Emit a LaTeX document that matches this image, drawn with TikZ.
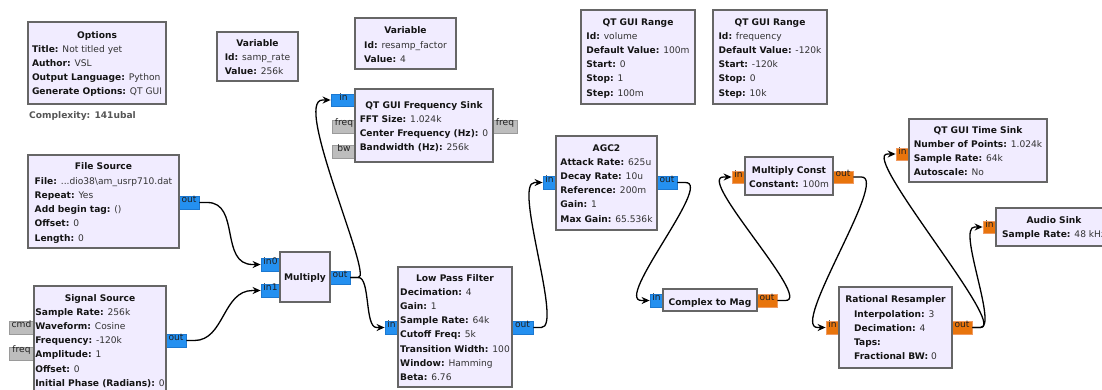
\documentclass[tikz,border=0pt]{standalone}
\usepackage{fontspec}
\setmainfont{DejaVu Sans}
\usetikzlibrary{fit,arrows.meta}
\definecolor{blockbg}{HTML}{F1ECFF}
\definecolor{blockline}{HTML}{666666}
\definecolor{keyc}{HTML}{141414}
\definecolor{valc}{HTML}{333333}
\definecolor{cplx}{HTML}{2490F0}
\definecolor{cplxline}{HTML}{1C78D0}
\definecolor{flt}{HTML}{E8740C}
\definecolor{fltline}{HTML}{F09A60}
\definecolor{msg}{HTML}{BDBDBD}
\definecolor{msgline}{HTML}{9A9A9A}
\definecolor{porttext}{HTML}{202020}
\definecolor{cplxtext}{HTML}{555555}
\newcommand{\kvline}[2]{\textbf{\color{keyc}#1} #2}
\tikzset{
  blockbox/.style={draw=blockline, fill=blockbg, line width=1.3pt, inner sep=0pt},
  ttl/.style={font=\bfseries, text=keyc, anchor=base, inner sep=0pt},
  bodytext/.style={text=valc, anchor=base, inner sep=0pt},
  port/.style={inner sep=0pt, line width=0.8pt, text=porttext},
  cport/.style={port, fill=cplx, draw=cplxline},
  fport/.style={port, fill=flt, draw=fltline},
  mport/.style={port, fill=msg, draw=msgline},
  wire/.style={draw=black, line width=1.3pt, -{Stealth[length=8pt,width=7pt]}},
}
\begin{document}
\fontsize{9.1}{14.2}\selectfont
\begin{tikzpicture}[x=1pt,y=-1pt]
\useasboundingbox (0,0) rectangle (1102,389);
\clip (0,0) rectangle (1102,389);

% ---------- ports ----------
\node[cport, fit={(331,94) (356,106)}] (fs-in) {in};
\node[mport, fit={(332,120) (356,133)}] (fs-freq) {freq};
\node[mport, fit={(332,145) (356,158)}] (fs-bw) {bw};
\node[mport, fit={(493,120) (517,133)}] (fs-fout) {freq};
\node[cport, fit={(179,196) (199,209)}] (file-out) {out};
\node[mport, fit={(9,321) (34,334)}] (sig-cmd) {cmd};
\node[mport, fit={(9,347) (34,360)}] (sig-freq) {freq};
\node[cport, fit={(166,334) (186,347)}] (sig-out) {out};
\node[cport, fit={(261,258) (280,271)}] (mul-in0) {in0};
\node[cport, fit={(261,284) (280,297)}] (mul-in1) {in1};
\node[cport, fit={(330,271) (350,284)}] (mul-out) {out};
\node[cport, fit={(385,321) (398,334)}] (lpf-in) {in};
\node[cport, fit={(512,321) (533,334)}] (lpf-out) {out};
\node[cport, fit={(543,176) (556,189)}] (agc-in) {in};
\node[cport, fit={(657,176) (677,189)}] (agc-out) {out};
\node[fport, fit={(732,171) (745,183)}] (mc-in) {in};
\node[fport, fit={(833,171) (853,183)}] (mc-out) {out};
\node[cport, fit={(650,294) (663,307)}] (cm-in) {in};
\node[fport, fit={(757,294) (777,307)}] (cm-out) {out};
\node[fport, fit={(826,321) (839,334)}] (rr-in) {in};
\node[fport, fit={(952,321) (972,334)}] (rr-out) {out};
\node[fport, fit={(896,148) (909,160)}] (ts-in) {in};
\node[fport, fit={(983,221) (996,233)}] (au-in) {in};

% ---------- blocks ----------
\node[blockbox, fit={(28,22) (166,104)}] (opt) {};
\node[ttl] (opt-t) at (97,38.3) {Options};
\node[bodytext] (opt-b) at (97,52.3) {\begin{tabular}[t]{@{}l@{}}
\kvline{Title:}{Not titled yet}\\
\kvline{Author:}{VSL}\\
\kvline{Output Language:}{Python}\\
\kvline{Generate Options:}{QT GUI}\end{tabular}};
\node[font=\bfseries, text=cplxtext, anchor=base west, inner sep=0pt] (cplx) at (29,118.3) {Complexity: 141ubal};

\node[blockbox, fit={(217,32) (298,81)}] (var1) {};
\node[ttl] (var1-t) at (257.5,46.3) {Variable};
\node[bodytext] (var1-b) at (257.5,60.3) {\begin{tabular}[t]{@{}l@{}}
\kvline{Id:}{samp\_rate}\\
\kvline{Value:}{256k}\end{tabular}};

\node[blockbox, fit={(355,18) (456,69)}] (var2) {};
\node[ttl] (var2-t) at (405.5,33.3) {Variable};
\node[bodytext] (var2-b) at (405.5,48.3) {\begin{tabular}[t]{@{}l@{}}
\kvline{Id:}{resamp\_factor}\\
\kvline{Value:}{4}\end{tabular}};

\node[blockbox, fit={(355,89) (493,162)}] (fs) {};
\node[ttl] (fs-t) at (424,108.3) {QT GUI Frequency Sink};
\node[bodytext] (fs-b) at (424,122.3) {\begin{tabular}[t]{@{}l@{}}
\kvline{FFT Size:}{1.024k}\\
\kvline{Center Frequency (Hz):}{0}\\
\kvline{Bandwidth (Hz):}{256k}\end{tabular}};

\node[blockbox, fit={(28,155) (179,248)}] (file) {};
\node[ttl] (file-t) at (103.5,169.3) {File Source};
\node[bodytext] (file-b) at (103.5,184.3) {\begin{tabular}[t]{@{}l@{}}
\kvline{File:}{...dio38\textbackslash am\_usrp710.dat}\\
\kvline{Repeat:}{Yes}\\
\kvline{Add begin tag:}{()}\\
\kvline{Offset:}{0}\\
\kvline{Length:}{0}\end{tabular}};

\node[blockbox, fit={(34,286) (166,400)}] (sig) {};
\node[ttl] (sig-t) at (100,301.3) {Signal Source};
\node[bodytext] (sig-b) at (100,315.3) {\begin{tabular}[t]{@{}l@{}}
\kvline{Sample Rate:}{256k}\\
\kvline{Waveform:}{Cosine}\\
\kvline{Frequency:}{-120k}\\
\kvline{Amplitude:}{1}\\
\kvline{Offset:}{0}\\
\kvline{Initial Phase (Radians):}{0}\end{tabular}};

\node[blockbox, fit={(280,252) (330,302)}] (mul) {};
\node[ttl] (mul-t) at (305,280.3) {Multiply};

\node[blockbox, fit={(398,267) (512,387)}] (lpf) {};
\node[ttl] (lpf-t) at (455,281.3) {Low Pass Filter};
\node[bodytext] (lpf-b) at (455,295.3) {\begin{tabular}[t]{@{}l@{}}
\kvline{Decimation:}{4}\\
\kvline{Gain:}{1}\\
\kvline{Sample Rate:}{64k}\\
\kvline{Cutoff Freq:}{5k}\\
\kvline{Transition Width:}{100}\\
\kvline{Window:}{Hamming}\\
\kvline{Beta:}{6.76}\end{tabular}};

\node[blockbox, fit={(556,136) (657,230)}] (agc) {};
\node[ttl] (agc-t) at (606.5,151.3) {AGC2};
\node[bodytext] (agc-b) at (606.5,165.3) {\begin{tabular}[t]{@{}l@{}}
\kvline{Attack Rate:}{625u}\\
\kvline{Decay Rate:}{10u}\\
\kvline{Reference:}{200m}\\
\kvline{Gain:}{1}\\
\kvline{Max Gain:}{65.536k}\end{tabular}};

\node[blockbox, fit={(581,10) (695,104)}] (rng1) {};
\node[ttl] (rng1-t) at (638,25.3) {QT GUI Range};
\node[bodytext] (rng1-b) at (638,39.3) {\begin{tabular}[t]{@{}l@{}}
\kvline{Id:}{volume}\\
\kvline{Default Value:}{100m}\\
\kvline{Start:}{0}\\
\kvline{Stop:}{1}\\
\kvline{Step:}{100m}\end{tabular}};

\node[blockbox, fit={(713,10) (827,104)}] (rng2) {};
\node[ttl] (rng2-t) at (770,25.3) {QT GUI Range};
\node[bodytext] (rng2-b) at (770,39.3) {\begin{tabular}[t]{@{}l@{}}
\kvline{Id:}{frequency}\\
\kvline{Default Value:}{-120k}\\
\kvline{Start:}{-120k}\\
\kvline{Stop:}{0}\\
\kvline{Step:}{10k}\end{tabular}};

\node[blockbox, fit={(745,157) (833,195)}] (mc) {};
\node[ttl] (mc-t) at (789,173.3) {Multiply Const};
\node[bodytext] (mc-b) at (789,187.3) {\begin{tabular}[t]{@{}l@{}}
\kvline{Constant:}{100m}\end{tabular}};

\node[blockbox, fit={(663,289) (757,311)}] (cm) {};
\node[ttl] (cm-t) at (710,305.3) {Complex to Mag};

\node[blockbox, fit={(839,287) (952,368)}] (rr) {};
\node[ttl] (rr-t) at (895.5,302.3) {Rational Resampler};
\node[bodytext] (rr-b) at (895.5,317.3) {\begin{tabular}[t]{@{}l@{}}
\kvline{Interpolation:}{3}\\
\kvline{Decimation:}{4}\\
\kvline{Taps:}{}\\
\kvline{Fractional BW:}{0}\end{tabular}};

\node[blockbox, fit={(909,119) (1047,182)}] (ts) {};
\node[ttl] (ts-t) at (978,133.3) {QT GUI Time Sink};
\node[bodytext] (ts-b) at (978,147.3) {\begin{tabular}[t]{@{}l@{}}
\kvline{Number of Points:}{1.024k}\\
\kvline{Sample Rate:}{64k}\\
\kvline{Autoscale:}{No}\end{tabular}};

\node[blockbox, fit={(996,208) (1112,246)}] (au) {};
\node[ttl] (au-t) at (1054,223.3) {Audio Sink};
\node[bodytext] (au-b) at (1054,237.3) {\begin{tabular}[t]{@{}l@{}}
\kvline{Sample Rate:}{48 kHz}\end{tabular}};

% ---------- wires ----------
\draw[wire] (file-out.east) -- ++(8,0) .. controls +(33,0) and +(-33,0) .. ([xshift=-8pt]mul-in0.west) -- (mul-in0.west);
\draw[wire] (sig-out.east) -- ++(8,0) .. controls +(30,0) and +(-30,0) .. ([xshift=-8pt]mul-in1.west) -- (mul-in1.west);
\draw[wire] (mul-out.east) -- ++(8,0) .. controls +(15,0) and +(-30,0) .. ([xshift=-8pt]fs-in.west) -- (fs-in.west);
\draw[wire] (mul-out.east) -- ++(8,0) .. controls +(12,0) and +(-12,0) .. ([xshift=-8pt]lpf-in.west) -- (lpf-in.west);
\draw[wire] (lpf-out.east) -- ++(8,0) .. controls +(22,0) and +(-22,0) .. ([xshift=-8pt]agc-in.west) -- (agc-in.west);
\draw[wire] (agc-out.east) -- ++(8,0) .. controls +(28,0) and +(-28,0) .. ([xshift=-8pt]cm-in.west) -- (cm-in.west);
\draw[wire] (cm-out.east) -- ++(8,0) .. controls +(28,0) and +(-28,0) .. ([xshift=-8pt]mc-in.west) -- (mc-in.west);
\draw[wire] (mc-out.east) -- ++(8,0) .. controls +(28,0) and +(-28,0) .. ([xshift=-8pt]rr-in.west) -- (rr-in.west);
\draw[wire] (rr-out.east) -- ++(8,0) .. controls +(28,0) and +(-28,0) .. ([xshift=-8pt]ts-in.west) -- (ts-in.west);
\draw[wire] (rr-out.east) -- ++(8,0) .. controls +(18,0) and +(-18,0) .. ([xshift=-8pt]au-in.west) -- (au-in.west);
\end{tikzpicture}
\end{document}
